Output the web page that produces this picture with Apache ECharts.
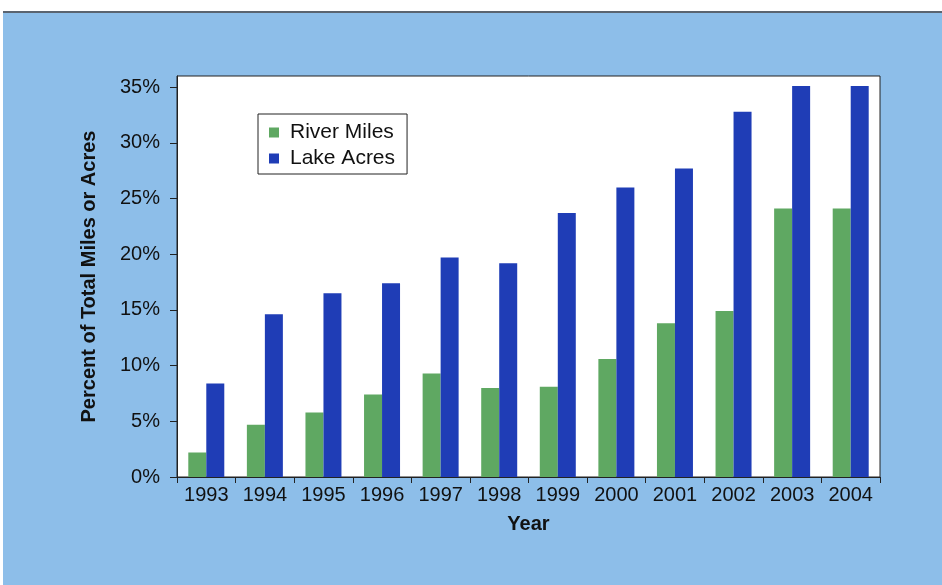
<!DOCTYPE html>
<html>
<head>
<meta charset="utf-8">
<title>Percent of Total Miles or Acres</title>
<script src="https://cdn.jsdelivr.net/npm/echarts@6/dist/echarts.min.js"></script>
<style>
  html, body { margin: 0; padding: 0; background: #fff; }
  #bg {
    position: absolute; left: 3px; top: 11px; width: 939px; height: 574px;
    background: #8dbee9; border-top: 2px solid #5a6470;
  }
  #main { position: absolute; left: 0; top: 0; width: 942px; height: 585px; }
</style>
</head>
<body>
<div id="bg"></div>
<div id="main"></div>
<script>
// 年份
const years = ['1993', '1994', '1995', '1996', '1997', '1998', '1999', '2000', '2001', '2002', '2003', '2004'];
// River Miles (%)
const riverMiles = [2.2, 4.7, 5.8, 7.4, 9.3, 8.0, 8.1, 10.6, 13.8, 14.9, 24.1, 24.1];
// Lake Acres (%)
const lakeAcres = [8.4, 14.6, 16.5, 17.4, 19.7, 19.2, 23.7, 26.0, 27.7, 32.8, 35.1, 35.1];
// y轴刻度
const yTicks = [0, 5, 10, 15, 20, 25, 30, 35];

const fontFamily = '"Liberation Sans", Arial, sans-serif';
const textColor = '#111';

const myChart = echarts.init(document.getElementById('main'));
const option = {
  animation: false,
  textStyle: { fontFamily: fontFamily },
  grid: {
    left: 177,
    right: 62,
    top: 76,
    bottom: 108,
    show: true,
    backgroundColor: '#ffffff',
    borderColor: '#222',
    borderWidth: 1
  },
  legend: {
    data: ['River Miles', 'Lake Acres'],
    orient: 'vertical',
    left: 258,
    top: 114,
    icon: 'rect',
    itemWidth: 10,
    itemHeight: 10,
    itemGap: 5,
    padding: [8, 12, 5, 11],
    backgroundColor: '#ffffff',
    borderColor: '#222',
    borderWidth: 1,
    borderRadius: 0,
    textStyle: {
      fontSize: 21,
      color: textColor,
      fontFamily: fontFamily,
      padding: [0, 0, 0, 6]
    }
  },
  xAxis: {
    type: 'category',
    data: years,
    name: 'Year',
    nameLocation: 'middle',
    nameGap: 37,
    nameTextStyle: { fontSize: 20, fontWeight: 'bold', color: textColor },
    axisLine: { lineStyle: { color: '#222', width: 1 } },
    axisTick: { show: true, length: 6, lineStyle: { color: '#222' } },
    axisLabel: { fontSize: 20, color: textColor, margin: 8 }
  },
  yAxis: {
    type: 'value',
    min: 0,
    max: 36,
    interval: 5,
    name: 'Percent of Total Miles or Acres',
    nameLocation: 'middle',
    nameGap: 78,
    nameTextStyle: { fontSize: 20, fontWeight: 'bold', color: textColor },
    axisLine: { show: true, lineStyle: { color: '#222', width: 1 } },
    axisTick: { show: true, length: 7, customValues: yTicks, lineStyle: { color: '#222' } },
    axisLabel: {
      fontSize: 20,
      color: textColor,
      margin: 17,
      customValues: yTicks,
      formatter: function (v) { return v + '%'; }
    },
    splitLine: { show: false }
  },
  series: [{
    name: 'River Miles',
    type: 'bar',
    data: riverMiles,
    barWidth: 18,
    barGap: '0%',
    itemStyle: { color: '#5fa862' }
  }, {
    name: 'Lake Acres',
    type: 'bar',
    data: lakeAcres,
    barWidth: 18,
    barGap: '0%',
    itemStyle: { color: '#1f3db6' }
  }]
};
myChart.setOption(option);
</script>
</body>
</html>
